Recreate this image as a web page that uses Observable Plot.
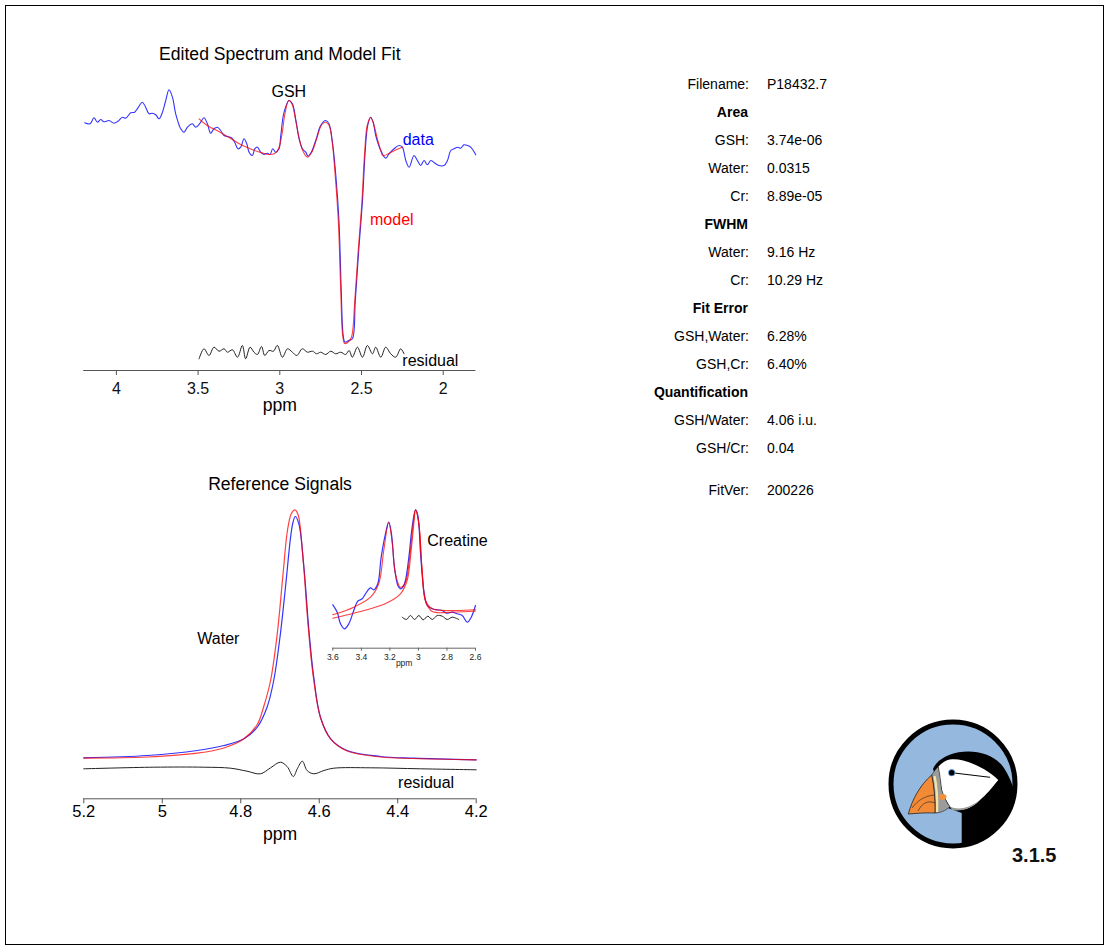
<!DOCTYPE html>
<html>
<head>
<meta charset="utf-8">
<script src="https://cdn.jsdelivr.net/npm/d3@7"></script>
<script src="https://cdn.jsdelivr.net/npm/@observablehq/plot@0.6"></script>
<style>
html,body{margin:0;padding:0;background:#fff;}
#page{position:relative;width:1109px;height:950px;overflow:hidden;font-family:"Liberation Sans",Arial,Helvetica,sans-serif;}
#frame{position:absolute;left:5px;top:5px;width:1099px;height:940px;border:1px solid #000;box-sizing:border-box;}
.lab{position:absolute;left:0;width:749px;text-align:right;font-size:14px;line-height:20px;color:#000;white-space:nowrap;}
.val{position:absolute;left:767px;font-size:14px;line-height:20px;color:#000;white-space:nowrap;}
.hdr{font-weight:bold;width:748px;}
</style>
</head>
<body>
<div id="page"><div id="frame"></div></div>
<script>
const FONT = '"Liberation Sans", Arial, Helvetica, sans-serif';

// ---------- tick labels ----------
const topTicks = [4, 3.5, 3, 2.5, 2];
const waterTicks = [5.2, 5, 4.8, 4.6, 4.4, 4.2];
const crTicks = [3.6, 3.4, 3.2, 3, 2.8, 2.6];

// ---------- edited spectrum (GSH) ----------
const gshDataPpm = [4.194,4.161,4.137,4.116,4.096,4.076,4.045,4.015,3.990,3.963,
 3.943,3.912,3.888,3.868,3.841,3.821,3.800,3.780,3.759,3.739,
 3.718,3.698,3.678,3.657,3.637,3.606,3.586,3.565,3.535,3.515,
 3.488,3.464,3.443,3.423,3.403,3.382,3.362,3.341,3.321,3.296,
 3.276,3.256,3.239,3.219,3.202,3.188,3.168,3.153,3.137,3.117,
 3.097,3.076,3.060,3.043,3.025,3.005,2.994,2.974,2.944,2.923,
 2.903,2.882,2.862,2.841,2.827,2.807,2.780,2.750,2.719,2.699,
 2.678,2.658,2.638,2.624,2.612,2.601,2.578,2.556,2.538,2.517,
 2.494,2.477,2.462,2.444,2.428,2.413,2.382,2.352,2.332,2.301,
 2.270,2.250,2.229,2.209,2.179,2.158,2.138,2.117,2.097,2.076,
 2.046,2.026,1.995,1.974,1.954,1.934,1.913,1.893,1.873,1.852,
 1.832,1.801];
const gshDataVal = [24.77,24.67,25.27,24.83,25.1,24.87,25.0,24.73,24.93,25.33,
 25.23,25.77,25.83,26.27,26.83,26.33,25.67,25.73,25.57,25.17,
 25.83,27.0,28.07,27.33,25.67,24.17,23.83,24.33,24.67,24.33,
 24.73,25.27,24.67,23.73,24.17,24.33,24.0,23.5,23.4,23.27,
 22.83,22.17,22.33,23.17,22.67,21.83,21.5,22.17,22.33,21.83,
 21.6,21.73,21.6,22.17,21.83,22.17,23.5,25.83,27.0,26.67,
 25.17,23.17,22.17,21.83,21.43,21.83,23.0,24.5,25.0,24.67,
 22.83,19.67,15.0,8.0,3.5,2.83,3.0,3.17,7.0,12.0,
 17.0,22.0,24.5,25.33,24.8,23.5,22.0,21.23,21.67,22.17,
 22.5,22.33,21.0,20.33,21.5,21.0,20.5,21.0,20.57,21.0,
 20.67,20.5,20.5,21.0,22.0,22.17,22.33,22.23,22.57,22.5,
 22.33,21.57];
const gshModelPpm = [3.494,3.453,3.411,3.362,3.300,3.239,3.178,3.117,3.068,3.031,
 3.007,2.988,2.967,2.945,2.924,2.903,2.878,2.854,2.831,2.805,
 2.774,2.743,2.719,2.698,2.679,2.661,2.642,2.627,2.615,2.603,
 2.578,2.560,2.541,2.520,2.497,2.480,2.465,2.444,2.425,2.403,
 2.382,2.370,2.321,2.284,2.250];
const gshModelVal = [25.17,24.6,24.2,23.8,23.2,22.6,22.15,21.8,21.6,21.7,
 22.2,23.5,25.8,27.0,26.6,25.0,23.0,21.8,21.33,21.8,
 23.2,24.6,24.83,24.5,22.8,19.5,15.0,8.0,3.5,2.7,
 2.9,3.4,7.0,12.0,17.0,22.0,24.5,25.3,24.6,23.17,
 22.0,21.5,21.8,22.1,22.33];
const gshResPpm = [3.494,3.464,3.433,3.403,3.372,3.341,3.321,3.290,3.259,3.229,
 3.209,3.182,3.158,3.137,3.112,3.092,3.066,3.039,3.015,2.984,
 2.953,2.923,2.896,2.862,2.831,2.800,2.774,2.750,2.719,2.688,
 2.658,2.627,2.597,2.576,2.556,2.525,2.494,2.464,2.433,2.413,
 2.382,2.352,2.321,2.291,2.260,2.240];
const gshResVal = [1.17,2.17,1.5,2.33,1.93,2.17,1.83,2.07,1.33,2.5,
 1.17,2.33,1.83,1.6,2.4,1.5,2.0,1.93,2.5,1.33,
 2.17,1.83,1.5,2.17,1.83,1.93,1.67,1.83,1.6,1.93,
 1.67,1.83,1.6,2.0,1.33,2.33,1.33,2.5,1.67,2.33,
 1.33,2.33,1.67,1.33,2.17,1.67];

// ---------- water reference ----------
const waterDataPpm = [5.2,5.038,4.911,4.843,4.792,4.758,4.733,4.716,4.699,4.686,
 4.673,4.667,4.661,4.652,4.639,4.627,4.614,4.597,4.571,4.529,4.444,4.359,4.2];
const waterDataVal = [4.1,4.33,4.83,5.33,6.0,7.16,9.16,11.83,16.5,21.16,
 26.16,27.63,28.23,27.5,23.16,17.16,12.16,8.16,6.0,4.83,4.23,4.06,3.9];
const waterModelPpm = [5.2,5.038,4.911,4.843,4.792,4.758,4.742,4.724,4.707,4.693,
 4.681,4.671,4.662,4.654,4.641,4.628,4.615,4.597,4.571,4.529,4.444,4.359,4.2];
const waterModelVal = [4.06,4.18,4.56,5.08,6.0,7.43,9.16,11.83,16.5,22.16,
 26.83,28.53,28.9,28.43,23.83,17.16,12.16,8.16,6.0,4.78,4.18,4.03,3.9];
const waterResPpm = [5.2,5.022,4.894,4.826,4.784,4.750,4.724,4.699,4.682,4.666,
 4.656,4.643,4.631,4.614,4.588,4.563,4.469,4.342,4.2];
const waterResVal = [3.0,3.16,3.16,3.06,2.76,2.5,3.1,3.66,3.23,2.23,
 3.0,3.76,2.83,2.5,2.83,3.06,3.1,3.0,2.9];

// ---------- creatine reference (inset) ----------
const crDataPpm = [3.6,3.569,3.546,3.518,3.488,3.453,3.425,3.394,3.371,3.336,
 3.313,3.285,3.261,3.231,3.208,3.189,3.168,3.144,3.126,3.109,
 3.091,3.067,3.044,3.020,3.004,2.985,2.962,2.938,2.903,2.868,
 2.833,2.803,2.763,2.728,2.693,2.658,2.630,2.6];
const crDataVal = [4.34,3.6,2.44,1.94,2.44,3.77,4.7,4.94,5.44,6.04,
 5.84,6.44,9.1,11.44,12.6,11.44,8.1,6.27,5.94,6.1,
 6.77,9.1,12.1,13.84,13.27,9.44,5.77,4.27,3.94,3.84,
 3.77,3.5,3.6,3.44,3.27,2.6,3.1,4.27];
const crModelPpm = [3.6,3.453,3.336,3.278,3.243,3.208,3.184,3.161,3.126,3.091,
 3.060,3.037,3.020,2.997,2.974,2.950,2.903,2.752,2.6];
const crModelVal = [3.34,4.1,5.1,6.44,9.77,12.6,10.6,7.44,6.1,6.6,
 9.27,12.44,13.84,12.44,7.77,4.77,3.94,3.77,3.84];
const crCompPpm = [3.6,3.453,3.336,3.219,3.126,3.079,3.051,3.032,3.020,2.997,
 2.974,2.950,2.903,2.752,2.6];
const crCompVal = [3.0,3.5,3.94,4.54,5.44,6.77,9.77,12.44,13.84,12.44,
 7.77,4.67,3.67,3.62,3.72];
const crResPpm = [3.114,3.084,3.056,3.027,2.997,2.967,2.934,2.903,2.868,2.833,2.798,2.763,2.717];
const crResVal = [3.1,2.87,3.27,2.87,3.27,2.84,3.2,2.87,3.27,3.2,2.87,3.1,2.87];

// ---------- text panel ----------
const infoLabels = ["Filename:","Area","GSH:","Water:","Cr:","FWHM","Water:","Cr:","Fit Error","GSH,Water:","GSH,Cr:","Quantification","GSH/Water:","GSH/Cr:","FitVer:"];
const infoValues = ["P18432.7","","3.74e-06","0.0315","8.89e-05","","9.16 Hz","10.29 Hz","","6.28%","6.40%","","4.06 i.u.","0.04","200226"];
const infoHeaders = ["Area","FWHM","Fit Error","Quantification"];
const versionLabel = "3.1.5";

// ---------- helpers ----------
const page = document.getElementById("page");
function place(el, left, top) {
  el.style.position = "absolute";
  el.style.left = left + "px";
  el.style.top = top + "px";
  page.appendChild(el);
  return el;
}
function trace(xs, ys, opts) {
  return Plot.line(d3.range(xs.length), {x: i => xs[i], y: i => ys[i], curve: "catmull-rom", ...opts});
}
function note(label, ppm, val, fill, anchor, size = 16) {
  return Plot.text([{label, ppm, val}], {x: "ppm", y: "val", text: "label", fill, textAnchor: anchor, fontSize: size, lineAnchor: "middle"});
}
const svgStyle = (fs) => ({background: "transparent", fontFamily: FONT, fontSize: fs + "px", color: "#111", overflow: "visible"});
const BLUE = "#0000ff", RED = "#ff0000", RES = "#222";

// ---------- top: edited spectrum ----------
const topPlot = Plot.plot({
  width: 560, height: 430,
  marginLeft: 83.2, marginRight: 84.6, marginTop: 70, marginBottom: 60,
  x: {domain: [4.2, 1.8]},
  y: {domain: [0, 30], axis: null},
  style: svgStyle(16),
  marks: [
    Plot.ruleY([0], {stroke: "#555", strokeWidth: 1}),
    Plot.axisX({ticks: topTicks, tickFormat: d => String(d), tickSize: 5, tickPadding: 7, label: null, fontSize: 16, stroke: "#555", fill: "#111"}),
    trace(gshDataPpm, gshDataVal, {stroke: BLUE, strokeWidth: 1.1, strokeOpacity: 0.8}),
    trace(gshModelPpm, gshModelVal, {stroke: RED, strokeWidth: 1.1, strokeOpacity: 0.75}),
    trace(gshResPpm, gshResVal, {stroke: RES, strokeWidth: 1}),
    note("GSH", 2.945, 27.9, "#000", "middle"),
    note("data", 2.248, 23.05, BLUE, "start"),
    note("model", 2.448, 15.1, RED, "start"),
    note("residual", 2.250, 0.95, "#000", "start"),
    Plot.text(["Edited Spectrum and Model Fit"], {text: d => d, frameAnchor: "top", dy: -23, fontSize: 17.6, fill: "#000"}),
    Plot.text(["ppm"], {text: d => d, frameAnchor: "bottom", dy: 40.5, fontSize: 17.6, fill: "#000"})
  ]
});
place(topPlot, 0, 0);

// ---------- bottom: water reference ----------
const waterPlot = Plot.plot({
  width: 560, height: 420,
  marginLeft: 83.3, marginRight: 84.3, marginTop: 58.3, marginBottom: 61.7,
  x: {domain: [5.2, 4.2]},
  y: {domain: [0, 30], axis: null},
  style: svgStyle(16),
  marks: [
    Plot.ruleY([0], {stroke: "#555", strokeWidth: 1}),
    Plot.axisX({ticks: waterTicks, tickFormat: d => String(d), tickSize: 5, tickPadding: 1, label: null, fontSize: 16.5, stroke: "#555", fill: "#000"}),
    trace(waterDataPpm, waterDataVal, {stroke: BLUE, strokeWidth: 1.2, strokeOpacity: 0.8}),
    trace(waterModelPpm, waterModelVal, {stroke: RED, strokeWidth: 1.2, strokeOpacity: 0.75}),
    trace(waterResPpm, waterResVal, {stroke: RES, strokeWidth: 1}),
    note("Water", 4.857, 16.0, "#000", "middle"),
    note("residual", 4.399, 1.61, "#000", "start"),
    Plot.text(["Reference Signals"], {text: d => d, frameAnchor: "top", dy: -21.3, fontSize: 17.6, fill: "#000"}),
    Plot.text(["ppm"], {text: d => d, frameAnchor: "bottom", dy: 41, fontSize: 17.6, fill: "#000"})
  ]
});
place(waterPlot, 0, 440);

// ---------- inset: creatine reference ----------
const crPlot = Plot.plot({
  width: 200, height: 200,
  marginLeft: 32.3, marginRight: 25, marginTop: 17.7, marginBottom: 32.3,
  x: {domain: [3.6, 2.6]},
  y: {domain: [0, 15], axis: null},
  style: svgStyle(8.5),
  marks: [
    Plot.ruleY([0], {stroke: "#666", strokeWidth: 1}),
    Plot.axisX({ticks: crTicks, tickFormat: d => String(d), tickSize: 3, tickPadding: 3, label: null, fontSize: 8.5, stroke: "#666", fill: "#222"}),
    trace(crDataPpm, crDataVal, {stroke: BLUE, strokeWidth: 1.2, strokeOpacity: 0.8}),
    trace(crCompPpm, crCompVal, {stroke: RED, strokeWidth: 1.1, strokeOpacity: 0.75}),
    trace(crModelPpm, crModelVal, {stroke: RED, strokeWidth: 1.1, strokeOpacity: 0.75}),
    trace(crResPpm, crResVal, {stroke: RES, strokeWidth: 1}),
    note("Creatine", 2.938, 10.78, "#000", "start"),
    Plot.text(["ppm"], {text: d => d, frameAnchor: "bottom", dy: 18, fontSize: 8.5, fill: "#222"})
  ]
});
place(crPlot, 300, 480);

// ---------- text panel ----------
infoLabels.forEach((lab, i) => {
  const k = i < 14 ? i : 14.5;
  const yc = 84 + 28 * k;
  const l = document.createElement("div");
  l.className = "lab" + (infoHeaders.includes(lab) ? " hdr" : "");
  l.textContent = lab;
  l.style.top = (yc - 10) + "px";
  page.appendChild(l);
  if (infoValues[i]) {
    const v = document.createElement("div");
    v.className = "val";
    v.textContent = infoValues[i];
    v.style.top = (yc - 10) + "px";
    page.appendChild(v);
  }
});

// ---------- logo ----------
const logo = document.createElement("div");
logo.innerHTML = `
<svg width="200" height="180" viewBox="870 700 200 180" xmlns="http://www.w3.org/2000/svg" style="display:block">
  <defs><clipPath id="cc"><circle cx="953" cy="784" r="62"/></clipPath></defs>
  <circle cx="953" cy="784" r="62" fill="#94b8de"/>
  <g clip-path="url(#cc)">
    <path d="M 933 769 C 942 748 988 744 1004 768 C 1013 782 1017 798 1019 812 L 1030 880 L 961.7 880 L 961.7 813 L 948 808 Z" fill="#000"/>
    <path d="M 938.3 766.7 C 944 760.5 949 759 953.3 759.3 C 966 759 986 768 998.3 780 C 990 790 986 795 980 800 C 975 805 970 808 965 809.3 C 958 810.5 953 809 950 806.7 C 946 800 943 795 941.7 790 Z" fill="#fff"/>
    <path d="M 950 806.7 C 958 810 968 809 980 800 C 972 808 962 812 952 810 Z" fill="#9a9a9a"/>
    <path d="M 931.7 775 C 935 770 937 767.5 938.3 766.7 C 940 775 941 784 941.7 790 C 944 797 947 803 950 806.7 C 945 811 940 813 935 813 C 935 800 934 786 931.7 775 Z" fill="#9b9b9b" stroke="#222" stroke-width="0.6"/>
    <path d="M 934.5 776 C 937 788 937.5 800 937 812" fill="none" stroke="#f1e4a4" stroke-width="2.4"/>
    <ellipse cx="942.5" cy="797" rx="4" ry="3" fill="#f0903c"/>
    <path d="M 908.3 814 C 912 800 920 785 931.7 775 C 934 786 935.5 800 935 813 C 925 812.5 915 813.5 908.3 814 Z" fill="#f28a36" stroke="#222" stroke-width="0.8"/>
    <path d="M 912 808 C 918 800 925 796 934 795" fill="none" stroke="#222" stroke-width="0.6"/>
    <path d="M 918 811 C 922 803 928 800 935 803" fill="none" stroke="#222" stroke-width="0.6"/>
    <path d="M 951.7 772.7 L 990 777.3" stroke="#000" stroke-width="1"/>
    <circle cx="951.7" cy="772.7" r="3.6" fill="#6f9fd0"/>
    <circle cx="951.7" cy="772.7" r="2.7" fill="#000"/>
  </g>
  <circle cx="953" cy="784" r="62" fill="none" stroke="#000" stroke-width="5"/>
  <text x="1012" y="862" font-family='"Liberation Sans", Arial, Helvetica, sans-serif' font-weight="bold" font-size="20" fill="#111">${versionLabel}</text>
</svg>`;
place(logo, 870, 700);
</script>
</body>
</html>
